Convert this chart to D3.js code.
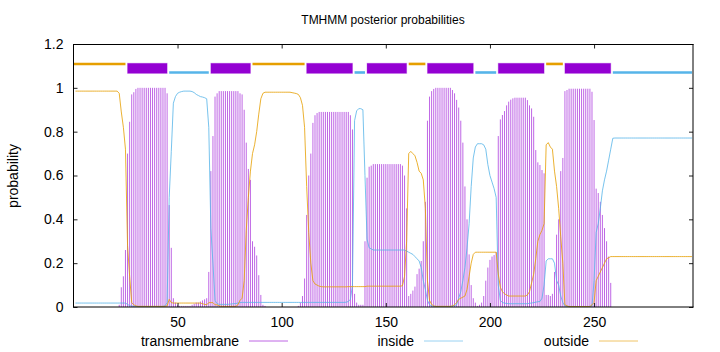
<!DOCTYPE html>
<html><head><meta charset="utf-8">
<script src="https://cdn.jsdelivr.net/npm/d3@7"></script>
<style>body{margin:0;background:#fff} svg{display:block} text{font-family:"Liberation Sans",Arial,sans-serif;fill:#000}</style>
</head><body><svg id="c" width="720" height="352"></svg>
<script>
const chartTitle = "TMHMM posterior probabilities";
const yLabel = "probability";
const xTicks = [50, 100, 150, 200, 250];
const yTicks = [0, 0.2, 0.4, 0.6, 0.8, 1, 1.2];
const yTickLabels = ["0", "0.2", "0.4", "0.6", "0.8", "1", "1.2"];
const seriesNames = ["transmembrane", "inside", "outside"];

// predicted topology
const segType  = ["outside","TM","inside","TM","outside","TM","inside","TM","outside","TM","inside","TM","outside","TM","inside"];
const segStart = [0, 26, 46, 66, 86, 112, 135, 141, 161, 170, 193, 204, 227, 236, 259];
const segEnd   = [25, 45, 65, 85, 111, 134, 140, 160, 169, 192, 203, 226, 235, 258, 297];

// per-residue posterior probabilities (residue 1..297)
const transmembrane = [
0,0,0,0,0,0,0,0,0,0,
0,0,0,0,0,0,0,0,0,0,
0,0.01,0.09,0.14,0.26,0.7,0.845,0.97,0.98,0.995,
1,1,1,1,1,1,1,1,1,1,
1,1,1,1,0.975,0.465,0.27,0.04,0.02,0.01,
0.005,0.005,0.005,0.005,0.005,0.005,0.01,0.015,0.02,0.02,
0.025,0.03,0.035,0.04,0.16,0.62,0.78,0.96,0.975,0.985,
0.985,0.985,0.985,0.985,0.985,0.985,0.985,0.985,0.985,0.975,
0.97,0.9,0.75,0.63,0.58,0.3,0.275,0.235,0.145,0.055,
0.01,0.005,0,0,0,0,0,0,0,0,
0,0,0,0,0,0,0,0.005,0.02,0.05,
0.13,0.42,0.6,0.7,0.84,0.875,0.885,0.89,0.89,0.89,
0.89,0.89,0.89,0.89,0.89,0.89,0.89,0.89,0.89,0.89,
0.89,0.89,0.875,0.81,0.06,0.02,0.01,0.01,0.01,0.3,
0.59,0.64,0.645,0.652,0.652,0.652,0.652,0.652,0.652,0.652,
0.652,0.652,0.652,0.652,0.652,0.652,0.652,0.645,0.6,0.45,
0.05,0.06,0.075,0.093,0.15,0.175,0.21,0.3,0.48,0.85,
0.96,0.985,0.995,1,1,1,1,1,1,1,
1,0.99,0.975,0.945,0.91,0.85,0.75,0.55,0.4,0.24,
0.1,0.04,0.02,0.005,0.01,0.02,0.05,0.12,0.18,0.215,
0.23,0.237,0.25,0.78,0.856,0.876,0.894,0.92,0.937,0.946,
0.952,0.955,0.955,0.955,0.955,0.955,0.955,0.944,0.92,0.906,
0.868,0.716,0.66,0.648,0.625,0.61,0.055,0.055,0.05,0.06,
0.16,0.33,0.4,0.62,0.68,0.985,0.99,0.996,0.996,0.996,
0.996,0.996,0.996,0.996,0.996,0.996,0.996,0.996,0.982,0.853,
0.54,0.52,0.48,0.42,0.36,0.3,0.23,0.11,0,0,
0,0,0,0,0,0,0,0,0,0,
0,0,0,0,0,0,0,0,0,0,
0,0,0,0,0,0,0,0,0,0,
0,0,0,0,0,0,0
];
const inside = [
0.018,0.018,0.018,0.018,0.018,0.018,0.018,0.018,0.018,0.018,
0.018,0.018,0.018,0.018,0.018,0.018,0.018,0.018,0.018,0.018,
0.018,0.018,0.018,0.018,0.018,0.012,0.006,0.004,0.003,0.003,
0.002,0.002,0.002,0.002,0.002,0.002,0.002,0.002,0.002,0.002,
0.002,0.002,0.003,0.005,0.02,0.5,0.71,0.93,0.96,0.975,
0.98,0.983,0.985,0.985,0.985,0.985,0.983,0.978,0.97,0.965,
0.96,0.958,0.955,0.95,0.82,0.36,0.2,0.03,0.015,0.012,
0.012,0.012,0.012,0.012,0.013,0.014,0.015,0.016,0.018,0.02,
0.021,0.021,0.021,0.021,0.021,0.021,0.021,0.021,0.021,0.021,
0.021,0.021,0.021,0.021,0.021,0.021,0.021,0.021,0.021,0.021,
0.021,0.021,0.021,0.021,0.021,0.021,0.021,0.021,0.021,0.021,
0.021,0.021,0.021,0.021,0.021,0.021,0.021,0.021,0.021,0.021,
0.021,0.021,0.021,0.021,0.021,0.021,0.021,0.021,0.021,0.021,
0.022,0.025,0.035,0.1,0.85,0.895,0.905,0.905,0.9,0.6,
0.31,0.27,0.265,0.26,0.26,0.26,0.26,0.26,0.26,0.26,
0.26,0.26,0.26,0.26,0.26,0.26,0.26,0.26,0.26,0.255,
0.25,0.245,0.24,0.23,0.22,0.21,0.18,0.12,0.08,0.03,
0.01,0.005,0.003,0.002,0.002,0.002,0.002,0.002,0.002,0.002,
0.003,0.004,0.006,0.01,0.04,0.07,0.12,0.18,0.27,0.38,
0.55,0.68,0.73,0.745,0.745,0.745,0.74,0.72,0.65,0.6,
0.57,0.54,0.5,0.1,0.03,0.02,0.018,0.016,0.015,0.015,
0.015,0.015,0.015,0.015,0.015,0.015,0.015,0.015,0.017,0.018,
0.02,0.022,0.024,0.025,0.04,0.1,0.21,0.22,0.22,0.22,
0.2,0.12,0.1,0.05,0.02,0.005,0.003,0.002,0.002,0.002,
0.002,0.002,0.002,0.002,0.002,0.002,0.002,0.003,0.005,0.12,
0.34,0.38,0.45,0.53,0.58,0.62,0.67,0.72,0.77,0.771,
0.771,0.771,0.771,0.771,0.771,0.771,0.771,0.771,0.771,0.771,
0.771,0.771,0.771,0.771,0.771,0.771,0.771,0.771,0.771,0.771,
0.771,0.771,0.771,0.771,0.771,0.771,0.771,0.771,0.771,0.771,
0.771,0.771,0.771,0.771,0.771,0.771,0.771
];
const outside = [
0.985,0.985,0.985,0.985,0.985,0.985,0.985,0.985,0.985,0.985,
0.985,0.985,0.985,0.985,0.985,0.985,0.985,0.985,0.985,0.985,
0.985,0.975,0.89,0.82,0.72,0.28,0.14,0.02,0.01,0.005,
0.003,0.003,0.003,0.003,0.003,0.003,0.003,0.003,0.003,0.003,
0.003,0.003,0.003,0.003,0.005,0.035,0.02,0.018,0.018,0.018,
0.018,0.018,0.018,0.018,0.018,0.018,0.018,0.018,0.018,0.018,
0.018,0.015,0.012,0.01,0.02,0.02,0.02,0.01,0.01,0.005,
0.003,0.003,0.003,0.003,0.003,0.003,0.003,0.003,0.01,0.03,
0.04,0.12,0.35,0.5,0.62,0.7,0.74,0.8,0.88,0.95,
0.975,0.98,0.98,0.98,0.98,0.98,0.98,0.98,0.98,0.98,
0.98,0.98,0.98,0.98,0.978,0.976,0.974,0.97,0.955,0.92,
0.82,0.55,0.34,0.2,0.12,0.105,0.1,0.095,0.093,0.092,
0.092,0.092,0.092,0.092,0.092,0.092,0.092,0.092,0.092,0.092,
0.092,0.093,0.093,0.093,0.093,0.093,0.093,0.093,0.093,0.093,
0.095,0.095,0.095,0.095,0.095,0.095,0.095,0.095,0.095,0.095,
0.095,0.095,0.095,0.095,0.095,0.095,0.095,0.097,0.14,0.3,
0.7,0.71,0.7,0.69,0.66,0.62,0.61,0.58,0.45,0.12,
0.03,0.012,0.005,0.003,0.003,0.003,0.003,0.003,0.003,0.003,
0.003,0.005,0.01,0.02,0.035,0.04,0.045,0.05,0.08,0.14,
0.2,0.24,0.25,0.25,0.25,0.25,0.25,0.25,0.25,0.25,
0.25,0.25,0.25,0.15,0.09,0.07,0.06,0.055,0.05,0.05,
0.05,0.05,0.05,0.05,0.05,0.05,0.05,0.055,0.07,0.11,
0.15,0.22,0.3,0.33,0.35,0.38,0.74,0.75,0.73,0.72,
0.62,0.55,0.45,0.32,0.2,0.01,0.005,0.002,0.002,0.002,
0.002,0.002,0.002,0.002,0.002,0.002,0.002,0.002,0.01,0.02,
0.12,0.14,0.16,0.18,0.2,0.22,0.225,0.23,0.23,0.23,
0.23,0.23,0.23,0.23,0.23,0.23,0.23,0.23,0.23,0.23,
0.23,0.23,0.23,0.23,0.23,0.23,0.23,0.23,0.23,0.23,
0.23,0.23,0.23,0.23,0.23,0.23,0.23,0.23,0.23,0.23,
0.23,0.23,0.23,0.23,0.23,0.23,0.23
];

const colTM = "#9400d3", colIn = "#56b4e9", colOut = "#e69f00";
const svg = d3.select("#c");
const x = d3.scaleLinear().domain([0, 297.5]).range([73.4, 693]);
const y = d3.scaleLinear().domain([0, 1.2]).range([307, 44]);
const residues = transmembrane.map((_, i) => i + 1);

// impulses
svg.append("g").selectAll("line").data(residues).join("line")
  .attr("x1", r => x(r)).attr("x2", r => x(r))
  .attr("y1", y(0)).attr("y2", r => y(transmembrane[r - 1]))
  .attr("stroke", colTM).attr("stroke-opacity", 0.6).attr("stroke-width", 1);

const line = arr => d3.line().x(r => x(r)).y(r => y(arr[r - 1]))(residues);
svg.append("path").attr("d", line(inside)).attr("fill", "none")
  .attr("stroke", colIn).attr("stroke-opacity", 0.8).attr("stroke-width", 1);
svg.append("path").attr("d", line(outside)).attr("fill", "none")
  .attr("stroke", colOut).attr("stroke-opacity", 0.8).attr("stroke-width", 1);

// topology bar
const topo = svg.append("g");
segType.forEach((t, i) => {
  const x0 = x(segStart[i]), x1 = x(segEnd[i]);
  if (t === "TM") {
    topo.append("rect").attr("x", x0).attr("width", x1 - x0)
      .attr("y", y(1.112)).attr("height", y(1.066) - y(1.112))
      .attr("fill", colTM).attr("stroke", colTM).attr("stroke-opacity", 0.3).attr("stroke-width", 1);
  } else if (t === "outside") {
    topo.append("line").attr("x1", x0).attr("x2", x1)
      .attr("y1", y(1.109)).attr("y2", y(1.109))
      .attr("stroke", colOut).attr("stroke-width", 2.6);
  } else {
    topo.append("line").attr("x1", x0).attr("x2", x1)
      .attr("y1", y(1.07)).attr("y2", y(1.07))
      .attr("stroke", colIn).attr("stroke-width", 2.6);
  }
});

// axes (inward ticks, mirrored)
const fmtY = (d, i) => yTickLabels[i];
const gB = svg.append("g").attr("transform", "translate(0,307)")
  .call(d3.axisBottom(x).tickValues(xTicks).tickSizeInner(-4).tickSizeOuter(0).tickPadding(10));
const gT = svg.append("g").attr("transform", "translate(0,44.5)")
  .call(d3.axisTop(x).tickValues(xTicks).tickSizeInner(-4).tickSizeOuter(0).tickFormat(""));
const gL = svg.append("g").attr("transform", "translate(73.5,0)")
  .call(d3.axisLeft(y).tickValues(yTicks).tickSizeInner(-4).tickSizeOuter(0).tickPadding(10).tickFormat(fmtY));
const gR = svg.append("g").attr("transform", "translate(693,0)")
  .call(d3.axisRight(y).tickValues(yTicks).tickSizeInner(-4).tickSizeOuter(0).tickFormat(""));
[gB, gT, gL, gR].forEach(g => {
  g.select(".domain").remove();
  g.selectAll(".tick line").attr("stroke", "#222");
  g.selectAll("text").attr("font-size", 14).attr("font-family", '"Liberation Sans", Arial, sans-serif').attr("fill", "#000");
});

// border
const bd = svg.append("g").attr("stroke", "#000").attr("stroke-width", 1);
bd.append("line").attr("x1", 73.5).attr("x2", 73.5).attr("y1", 44).attr("y2", 307.5);
bd.append("line").attr("x1", 73).attr("x2", 693.5).attr("y1", 44.5).attr("y2", 44.5);
bd.append("line").attr("x1", 693).attr("x2", 693).attr("y1", 44).attr("y2", 307.5);
bd.append("line").attr("x1", 73).attr("x2", 693.5).attr("y1", 307).attr("y2", 307);

// title & labels
svg.append("text").attr("x", 383).attr("y", 24).attr("text-anchor", "middle")
  .attr("font-size", 12).text(chartTitle);
svg.append("text").attr("transform", "translate(18,176) rotate(-90)").attr("text-anchor", "middle")
  .attr("font-size", 14).text(yLabel);

// legend
const legText = [239, 414, 589];
const legLine = [[249, 288], [424, 463], [599, 638]];
const legCol = [colTM, colIn, colOut];
seriesNames.forEach((n, i) => {
  svg.append("text").attr("x", legText[i]).attr("y", 346).attr("text-anchor", "end")
    .attr("font-size", 14).text(n);
  svg.append("line").attr("x1", legLine[i][0]).attr("x2", legLine[i][1])
    .attr("y1", 341).attr("y2", 341).attr("stroke", legCol[i])
    .attr("stroke-opacity", 0.6).attr("stroke-width", 1);
});
</script>
</body></html>
